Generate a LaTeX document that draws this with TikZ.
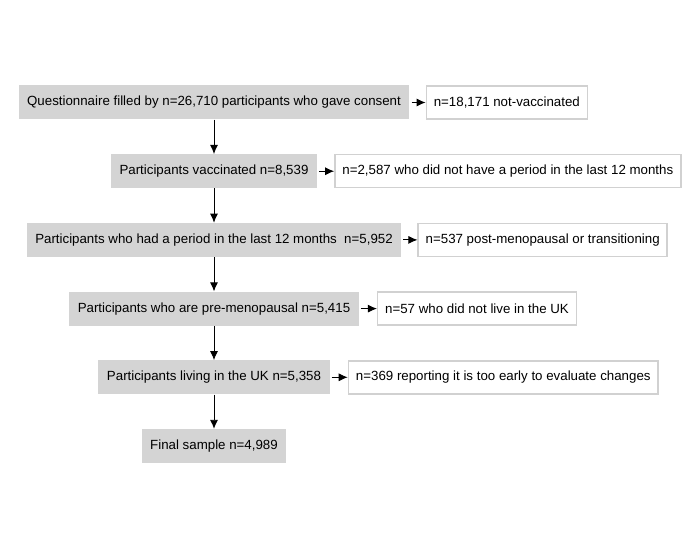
\documentclass[tikz,border=0pt]{standalone}
\usepackage{fontspec}
\setmainfont{Liberation Sans}
\usetikzlibrary{arrows.meta,positioning}

\begin{document}
\begin{tikzpicture}[node distance=34.3pt, >={Latex[length=9pt,width=8pt]}, font=\fontsize{13.3}{15}\selectfont]
        \tikzset{
            stage/.style={fill=black!17, minimum height=34pt, inner xsep=8.5pt, inner ysep=0pt},
            excluded/.style={draw=black!18, line width=1.5pt, fill=white, minimum height=33pt, inner xsep=7.5pt, inner ysep=0pt},
            flow/.style={->, line width=0.9pt}
        }
        \useasboundingbox (0,0) rectangle (700pt,-548pt);

        \node (consent) [stage] at (214pt,-102.5pt) {Questionnaire filled by n=26,710 participants who gave consent};
        \node (vacc) [stage, below=of consent] {Participants vaccinated n=8,539};
        \node (period) [stage, below=of vacc] {Participants who had a period in the last 12 months\ \ n=5,952};
        \node (premeno) [stage, below=of period] {Participants who are pre-menopausal n=5,415};
        \node (uk) [stage, below=of premeno] {Participants living in the UK n=5,358};
        \node (final) [stage, below=of uk] {Final sample n=4,989};

        \node (notvacc) [excluded, right=16pt of consent] {n=18,171 not-vaccinated};
        \node (noperiod) [excluded, right=17pt of vacc] {n=2,587 who did not have a period in the last 12 months};
        \node (postmeno) [excluded, right=16pt of period] {n=537 post-menopausal or transitioning};
        \node (notuk) [excluded, right=18pt of premeno] {n=57 who did not live in the UK};
        \node (early) [excluded, right=18pt of uk] {n=369 reporting it is too early to evaluate changes};

        \draw[flow] (consent) -- (vacc);
        \draw[flow] (vacc) -- (period);
        \draw[flow] (period) -- (premeno);
        \draw[flow] (premeno) -- (uk);
        \draw[flow] (uk) -- (final);

        \draw[flow, shorten <=2pt] (consent) -- (notvacc);
        \draw[flow, shorten <=2pt] (vacc) -- (noperiod);
        \draw[flow, shorten <=2pt] (period) -- (postmeno);
        \draw[flow, shorten <=2pt] (premeno) -- (notuk);
        \draw[flow, shorten <=2pt] (uk) -- (early);
    \end{tikzpicture}
\end{document}
